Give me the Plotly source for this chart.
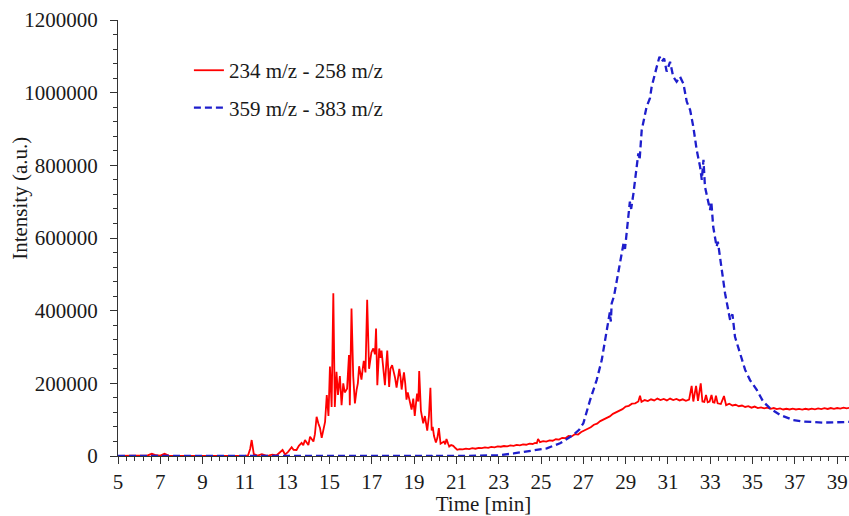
import plotly.graph_objects as go

# ---- data ----
red_time = [5.0, 5.4, 5.8, 6.1, 6.4, 6.6, 6.8, 7.0, 7.2, 7.4, 7.8, 8.2, 8.6, 9.0, 9.4, 9.8,
            10.2, 10.6, 11.0, 11.15, 11.25, 11.32, 11.42, 11.6, 11.8, 12.0, 12.15, 12.3, 12.5,
            12.65, 12.78, 12.9, 13.05, 13.21, 13.3, 13.44, 13.55, 13.68, 13.76, 13.84, 13.92,
            14.0, 14.08, 14.16, 14.24, 14.31, 14.39, 14.47, 14.55, 14.63, 14.71, 14.79, 14.87,
            14.95, 15.02, 15.1, 15.18, 15.25, 15.33, 15.4, 15.49, 15.57, 15.65, 15.72, 15.83,
            15.92, 15.96, 16.04, 16.12, 16.2, 16.28, 16.34, 16.4, 16.46, 16.51, 16.57, 16.62,
            16.7, 16.78, 16.87, 16.92, 16.98, 17.07, 17.15, 17.2, 17.26, 17.35, 17.41, 17.46,
            17.54, 17.62, 17.68, 17.73, 17.82, 17.88, 17.96, 18.04, 18.1, 18.17, 18.24, 18.3,
            18.36, 18.41, 18.47, 18.52, 18.58, 18.64, 18.7, 18.77, 18.82, 18.88, 18.96, 19.03,
            19.08, 19.14, 19.2, 19.24, 19.32, 19.38, 19.43, 19.51, 19.56, 19.62, 19.7, 19.77,
            19.83, 19.88, 19.94, 20.03, 20.1, 20.17, 20.25, 20.33, 20.41, 20.47, 20.53, 20.6,
            20.66, 20.75, 20.85, 20.95, 21.04, 21.15, 21.3, 21.45, 21.6, 21.75, 21.9, 22.05,
            22.2, 22.35, 22.5, 22.65, 22.8, 22.95, 23.1, 23.25, 23.4, 23.55, 23.7, 23.85, 24.0,
            24.15, 24.3, 24.45, 24.6, 24.72, 24.8, 24.86, 24.95, 25.1, 25.25, 25.4, 25.55, 25.7,
            25.85, 26.0, 26.15, 26.3, 26.45, 26.6, 26.75, 26.9, 27.05, 27.2, 27.35, 27.5, 27.65,
            27.8, 27.95, 28.1, 28.25, 28.4, 28.55, 28.7, 28.85, 29.0, 29.15, 29.3, 29.45, 29.6,
            29.68, 29.75, 29.9, 30.05, 30.2, 30.35, 30.5, 30.65, 30.8, 30.95, 31.1, 31.25, 31.4,
            31.55, 31.7, 31.85, 32.0, 32.12, 32.2, 32.33, 32.42, 32.55, 32.63, 32.72, 32.8,
            32.88, 32.97, 33.06, 33.13, 33.2, 33.27, 33.35, 33.5, 33.65, 33.75, 33.9, 34.05,
            34.2, 34.35, 34.5, 34.65, 34.8, 34.95, 35.1, 35.25, 35.4, 35.55, 35.7, 35.85, 36.0,
            36.15, 36.3, 36.45, 36.6, 36.75, 36.9, 37.05, 37.2, 37.35, 37.5, 37.65, 37.8, 37.95,
            38.1, 38.25, 38.4, 38.55, 38.7, 38.85, 39.0, 39.15, 39.3, 39.45, 39.6]
red_intensity = [0, 500, 0, 1000, 1500, 6000, 2000, 1000, 6000, 1000, 0, 500, 0, 0, 500, 0,
                 0, 500, 0, 2000, 20000, 44000, 5000, 1000, 5000, 1000, 2000, 4000, 2000,
                 9000, 16500, 4000, 12000, 24000, 17000, 16500, 28000, 36000, 30000, 44000, 38000,
                 30000, 53000, 45000, 40000, 60000, 108000, 90000, 77000, 50000, 70000, 94000, 168000,
                 110000, 246000, 135000, 448000, 135000, 232000, 168000, 220000, 140000, 200000, 175000, 185000,
                 278000, 140000, 406000, 220000, 145000, 182000, 200000, 247000, 225000, 210000, 240000, 262000,
                 230000, 430000, 240000, 260000, 285000, 296000, 280000, 351000, 195000, 296000, 270000, 290000,
                 250000, 195000, 250000, 290000, 190000, 240000, 250000, 232000, 215000, 188000, 220000, 240000,
                 215000, 183000, 210000, 230000, 200000, 155000, 175000, 158000, 140000, 128000, 158000, 110000,
                 140000, 172000, 150000, 234000, 125000, 105000, 90000, 110000, 95000, 70000, 110000, 188000,
                 70000, 80000, 55000, 37000, 50000, 77000, 34000, 38000, 40000, 32000, 47000, 35000,
                 26000, 30000, 28000, 22000, 17000, 19000, 18000, 20000, 19000, 21500, 20000, 22500,
                 21500, 23500, 22500, 25000, 24000, 26500, 25500, 27500, 26500, 29000, 28000, 30500, 29500,
                 32000, 31000, 34000, 33000, 36000, 35000, 47000, 38000, 41000, 39500, 43000, 42000, 46000,
                 45000, 50000, 49000, 55000, 54000, 60000, 59000, 66000, 70000, 75000, 79000, 86000, 89000,
                 96000, 100000, 106000, 109000, 116000, 120000, 126000, 129000, 136000, 138000, 144000, 145000, 150000,
                 166000, 149000, 154000, 151000, 156000, 153000, 158000, 154000, 157000, 153000, 158000, 154000, 157000,
                 153000, 156000, 152000, 155000, 193000, 150000, 193000, 152000, 200000, 150000, 149000, 168000,
                 148000, 150000, 168000, 148000, 147000, 166000, 145000, 143000, 165000, 140000, 144000, 139000,
                 141000, 137000, 139000, 135000, 137000, 133000, 136000, 132000, 134000, 131000, 133000, 130000, 132000,
                 129000, 131000, 128000, 130000, 128000, 130500, 128000, 129500, 127500, 130000, 128000, 130500, 128500,
                 131000, 129000, 131500, 129500, 132000, 130000, 132000, 130500, 133000, 131000, 133000]

blue_time = [5.0, 8.0, 11.0, 14.0, 17.0, 19.85, 19.9, 19.95, 21.0, 22.5, 23.0, 23.7, 24.5,
             25.27, 25.9, 26.2, 26.53, 26.8, 27.0, 27.32, 27.63, 27.87, 28.1, 28.25, 28.3, 28.34,
             28.45, 28.58, 28.81, 28.9, 28.97, 29.13, 29.2, 29.26, 29.37, 29.6, 29.66, 29.76,
             29.99, 30.15, 30.23, 30.47, 30.6, 30.7, 30.82, 30.94, 31.1, 31.25, 31.41, 31.57,
             31.73, 31.89, 32.05, 32.2, 32.36, 32.52, 32.6, 32.68, 32.75, 32.99, 33.05, 33.14,
             33.3, 33.36, 33.54, 33.7, 33.94, 34.05, 34.17, 34.4, 34.65, 34.88, 35.2, 35.5,
             35.83, 36.3, 36.93, 37.4, 37.87, 38.3, 38.82, 39.2, 39.6]
blue_intensity = [0, 0, 0, 0, 0, 0, 3000, 0, 0, 0, 2000, 7000, 14600,
                  21000, 35000, 45000, 58000, 72000, 90000, 154000, 209000, 264000, 338000, 395000, 370000, 420000,
                  440000, 484000, 558000, 585000, 570000, 668000, 700000, 680000, 723000, 833000, 815000, 897000,
                  961000, 985000, 1016000, 1071000, 1099000, 1085000, 1094000, 1058000, 1085000, 1044000, 1030000, 1044000,
                  1025000, 975000, 952000, 906000, 842000, 796000, 760000, 815000, 741000, 677000, 700000, 631000,
                  576000, 590000, 512000, 448000, 374000, 390000, 328000, 283000, 237000, 209000, 182000, 150000,
                  131000, 113000, 99000, 95000, 92500, 92000, 92500, 93000, 94000]

y_ticks = [0, 200000, 400000, 600000, 800000, 1000000, 1200000]
x_ticks = [5, 7, 9, 11, 13, 15, 17, 19, 21, 23, 25, 27, 29, 31, 33, 35, 37, 39]

FONT = "Liberation Serif, Times New Roman, serif"

fig = go.Figure()
fig.add_trace(go.Scatter(x=red_time, y=red_intensity, mode="lines", name="234 m/z - 258 m/z",
                         legendgroup="a", line=dict(color="#FF0000", width=1.8)))
fig.add_trace(go.Scatter(x=blue_time, y=blue_intensity, mode="lines", name="359 m/z - 383 m/z",
                         legendgroup="b", line=dict(color="#1E1ECC", width=2.3, dash="7px,4px")))

fig.update_layout(
    width=849, height=516,
    margin=dict(l=118, r=0, t=20, b=60),
    paper_bgcolor="white", plot_bgcolor="white",
    font=dict(family=FONT, size=21, color="#1a1a1a"),
    showlegend=True,
    legend=dict(x=0.097, y=0.931, xanchor="left", yanchor="top", bgcolor="rgba(0,0,0,0)",
                font=dict(family=FONT, size=21, color="#1a1a1a"), tracegroupgap=7),
    xaxis=dict(range=[5, 39.56], tickvals=x_ticks, ticktext=[str(v) for v in x_ticks],
               showline=True, linecolor="#333", linewidth=1, ticks="outside", ticklen=7,
               tickcolor="#333", showgrid=False, zeroline=False,
               minor=dict(dtick=0.4, tick0=5, ticks="outside", ticklen=4, tickcolor="#333", showgrid=False),
               title=dict(text="Time [min]", standoff=4, font=dict(family=FONT, size=21))),
    yaxis=dict(range=[0, 1200000], tickvals=y_ticks, ticktext=[str(v) for v in y_ticks],
               showline=True, linecolor="#333", linewidth=1, ticks="outside", ticklen=7,
               tickcolor="#333", showgrid=False, zeroline=False,
               minor=dict(dtick=40000, tick0=0, ticks="outside", ticklen=4, tickcolor="#333", showgrid=False),
               ticklabelstandoff=8),
    annotations=[dict(text="Intensity (a.u.)", xref="paper", yref="paper", x=-0.134, y=0.59,
                      showarrow=False, textangle=-90, xanchor="center", yanchor="middle",
                      font=dict(family=FONT, size=21, color="#1a1a1a"))],
)

fig.write_html("out.html")
